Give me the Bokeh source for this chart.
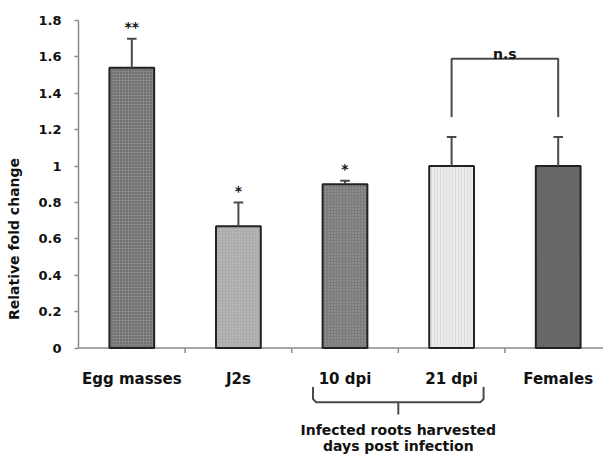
from bokeh.plotting import figure
from bokeh.models import Range1d, FixedTicker, ColumnDataSource
from bokeh.core.properties import value
from bokeh.embed import file_html
from bokeh.resources import INLINE

# ---- data ----
categories = ["Egg masses", "J2s", "10 dpi", "21 dpi", "Females"]
fold_change = [1.54, 0.67, 0.90, 1.00, 1.00]
error_upper = [0.16, 0.13, 0.02, 0.16, 0.16]
significance = ["**", "*", "*", "", ""]
y_ticks = [0, 0.2, 0.4, 0.6, 0.8, 1, 1.2, 1.4, 1.6, 1.8]
y_tick_labels = ["0", "0.2", "0.4", "0.6", "0.8", "1", "1.2", "1.4", "1.6", "1.8"]
group_label = ["Infected roots harvested", "days post infection"]
ns_label = "n.s"

# ---- styles ----
fill_colors = ["#6f6f6f", "#ababab", "#7b7b7b", "#ebebeb", "#676767"]
hatch_patterns = ["cross", "dot", "dot", "vertical_line", " "]
hatch_colors = ["#8c8c8c", "#c6c6c6", "#a2a2a2", "#d2d2d2", "#676767"]
FONT = value("DejaVu Sans")
AXIS_GRAY = "#8a8a8a"
LINE_DARK = "#4a4a4a"

n = len(categories)
xs = [i + 0.5 for i in range(n)]
tops = [v + e for v, e in zip(fold_change, error_upper)]

src = ColumnDataSource(dict(
    x=xs, top=fold_change, err_top=tops, fill=fill_colors,
    hatch=hatch_patterns, hcolor=hatch_colors, cat=categories,
    sig=significance, sig_y=[t + 0.065 for t in tops],
    cap_l=[x - 0.045 for x in xs], cap_r=[x + 0.045 for x in xs],
))

p = figure(width=603, height=457,
           x_range=Range1d(0, 4.925), y_range=Range1d(-0.601, 1.8),
           output_backend="svg", toolbar_location=None,
           x_axis_location=None,
           min_border_left=78, min_border_right=0,
           min_border_top=20, min_border_bottom=0)
p.outline_line_color = None
p.grid.grid_line_color = None
p.background_fill_color = "white"

# y axis
ya = p.yaxis[0]
ya.bounds = (0, 1.8)
ya.ticker = FixedTicker(ticks=y_ticks)
ya.major_label_overrides = dict(zip(y_ticks, y_tick_labels))
ya.minor_tick_line_color = None
ya.major_tick_in = 0
ya.major_tick_out = 4
ya.axis_line_color = AXIS_GRAY
ya.axis_line_width = 1.5
ya.major_tick_line_color = AXIS_GRAY
ya.major_tick_line_width = 1.5
ya.major_label_text_font = "DejaVu Sans"
ya.major_label_text_font_style = "bold"
ya.major_label_text_font_size = "13px"
ya.major_label_text_color = "#111111"
ya.major_label_standoff = 13
ya.axis_label = "Relative fold change"
ya.axis_label_text_font = "DejaVu Sans"
ya.axis_label_text_font_style = "bold"
ya.axis_label_text_font_size = "14px"
ya.axis_label_text_color = "#111111"
ya.axis_label_standoff = 13

# baseline + category boundary ticks
p.segment(x0=0, y0=0, x1=n, y1=0, line_color=AXIS_GRAY, line_width=1.5)
p.segment(x0=list(range(1, n + 1)), y0=[0] * n, x1=list(range(1, n + 1)),
          y1=[-0.027] * n, line_color=AXIS_GRAY, line_width=1.5)

# bars
p.vbar(x="x", top="top", bottom=0, width=0.42, source=src,
       fill_color="fill", line_color="#222222", line_width=2,
       hatch_pattern="hatch", hatch_color="hcolor", hatch_scale=3,
       hatch_weight=0.7)

# error bars (upper only)
p.segment(x0="x", y0="top", x1="x", y1="err_top", source=src,
          line_color=LINE_DARK, line_width=2)
p.segment(x0="cap_l", y0="err_top", x1="cap_r", y1="err_top", source=src,
          line_color=LINE_DARK, line_width=2)

# significance stars
p.text(x="x", y="sig_y", text="sig", source=src, text_font=FONT,
       text_font_style="bold", text_font_size="14px", text_align="center",
       text_baseline="alphabetic", text_color="#111111")

# category labels
p.text(x="x", y=-0.170, text="cat", source=src, text_font=FONT,
       text_font_style="bold", text_font_size="15px", text_align="center",
       text_baseline="alphabetic", text_color="#111111")

# n.s bracket between 21 dpi and Females
bx0, bx1 = xs[3], xs[4]
p.line(x=[bx0, bx0, bx1, bx1], y=[1.27, 1.59, 1.59, 1.27],
       line_color=LINE_DARK, line_width=2)
p.text(x=[(bx0 + bx1) / 2], y=[1.615], text=[ns_label], text_font=FONT,
       text_font_style="bold", text_font_size="14px", text_align="center",
       text_baseline="alphabetic", text_color="#111111")

# bottom brace under 10 dpi / 21 dpi
gl, gr = xs[2] - 0.3, xs[3] + 0.3
gc = (xs[2] + xs[3]) / 2
p.line(x=[gl, gl, gl + 0.03, gr - 0.03, gr, gr],
       y=[-0.214, -0.28, -0.297, -0.297, -0.28, -0.214],
       line_color=LINE_DARK, line_width=2)
p.segment(x0=gc, y0=-0.297, x1=gc, y1=-0.365, line_color=LINE_DARK,
          line_width=2)
p.text(x=[gc, gc], y=[-0.451, -0.539], text=group_label, text_font=FONT,
       text_font_style="bold", text_font_size="14px", text_align="center",
       text_baseline="alphabetic", text_color="#111111")

open("out.html", "w").write(file_html(p, INLINE))
